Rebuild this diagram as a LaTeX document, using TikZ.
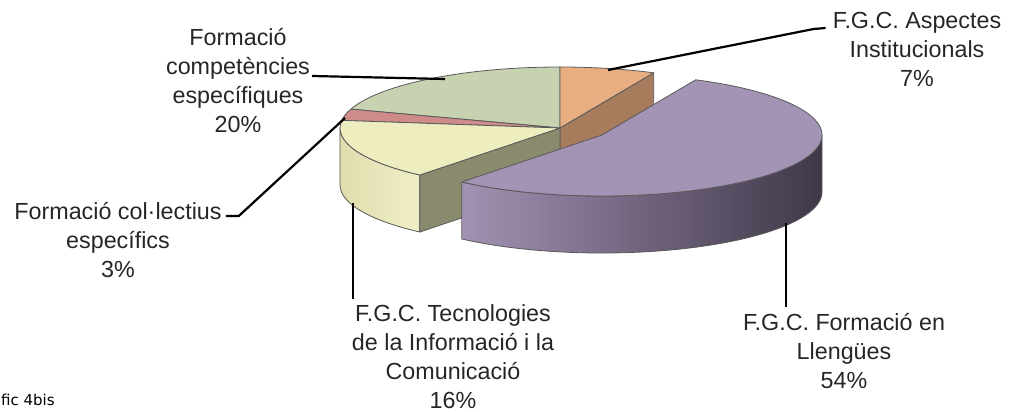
\documentclass[tikz,border=0pt]{standalone}
\usepackage{fontspec}
\setmainfont{Liberation Sans}
\newfontfamily\figfont{DejaVu Sans}
\usetikzlibrary{calc,positioning}
\definecolor{pieGreen}{HTML}{C7D3B0}
\definecolor{pieRed}{HTML}{CF8A8A}
\definecolor{pieOrange}{HTML}{E8AE82}
\definecolor{pieOrangeCut}{HTML}{A67C5C}
\definecolor{pieYellow}{HTML}{EEEDC0}
\definecolor{pieYellowL}{HTML}{E0DDAE}
\definecolor{pieYellowR}{HTML}{EFEEC6}
\definecolor{pieOlive}{HTML}{8A8A6E}
\definecolor{piePurple}{HTML}{A393B4}
\definecolor{piePurpleL}{HTML}{A292B3}
\definecolor{piePurpleM}{HTML}{74667E}
\definecolor{piePurpleD}{HTML}{3F3748}
\tikzstyle{rim}=[draw=black!65,line width=0.8pt,line join=round]
\tikzstyle{lbl}=[align=center,inner sep=0pt,text=black!85,font=\fontsize{23.3}{29}\selectfont]
\tikzstyle{lead}=[draw=black,line width=2.2pt]
\begin{document}
\begin{tikzpicture}[x=1pt,y=-1pt]
  \useasboundingbox (0,0) rectangle (1009,412);
  % slices that stay in place
  \begin{scope}[shift={(560,128)},yscale=-1,x radius=220,y radius=61]
    \coordinate (c) at (0,0);
    \coordinate (cb) at (0,-57);
    \path[rim,fill=pieGreen] (c) -- (162:220 and 61) arc[start angle=162,end angle=90] -- cycle;
    \path[rim,fill=pieRed] (c) -- (172.8:220 and 61) arc[start angle=172.8,end angle=162] -- cycle;
    \path[rim,fill=pieOrangeCut] (c) -- (64.8:220 and 61) -- ++(0,-57) -- (cb) -- cycle;
    \path[rim,fill=pieOrange] (c) -- (90:220 and 61) arc[start angle=90,end angle=64.8] -- cycle;
    \path[rim,left color=pieYellowL,right color=pieYellowR] (180:220 and 61)
      arc[start angle=180,end angle=230.4] -- ++(0,-57) arc[start angle=230.4,end angle=180] -- cycle;
    \path[rim,fill=pieOlive] (c) -- (230.4:220 and 61) -- ++(0,-57) -- (cb) -- cycle;
    \path[rim,fill=pieYellow] (c) -- (172.8:220 and 61) arc[start angle=172.8,end angle=230.4] -- cycle;
  \end{scope}
  % exploded slice
  \begin{scope}[shift={(602,135)},yscale=-1,x radius=220,y radius=61]
    \coordinate (d) at (0,0);
    \path[rim,left color=piePurpleL,middle color=piePurpleM,right color=piePurpleD] (230.4:220 and 61)
      arc[start angle=230.4,end angle=360] -- ++(0,-57) arc[start angle=360,end angle=230.4] -- cycle;
    \path[rim,fill=piePurple] (d) -- (64.8:220 and 61) arc[start angle=64.8,end angle=-129.6] -- cycle;
  \end{scope}
  % labels
  \node[lbl] (lComp) at (238,81) {Formació\\competències\\específiques\\20\%};
  \node[lbl] (lAsp) at (917,49) {F.G.C. Aspectes\\Institucionals\\7\%};
  \node[lbl] (lCol) at (118,240) {Formació col·lectius\\específics\\3\%};
  \node[lbl] (lTec) at (453,357) {F.G.C. Tecnologies\\de la Informació i la\\Comunicació\\16\%};
  \node[lbl] (lLle) at (844,351) {F.G.C. Formació en\\Llengües\\54\%};
  \node[anchor=base west,inner sep=0pt,font=\figfont\fontsize{15}{18}\selectfont] (cap) at (1,405) {fic 4bis};
  % leaders
  \coordinate (pComp) at (445,79);
  \coordinate (pAsp) at (608,70);
  \coordinate (pCol) at (345,118);
  \coordinate (pTec) at (353,203);
  \coordinate (pLle) at (786,223);
  \draw[lead] (lComp.east) ++(2,-5) -- (pComp);
  \draw[lead] (lAsp.west) ++(-7,-21) -- ++(-12,1) -- (pAsp);
  \draw[lead] (lCol.east) ++(4,-24) -- ++(13,0) -- (pCol);
  \draw[lead] (pTec) -- ($(lTec.north -| pTec)+(0,-6)$);
  \draw[lead] (pLle) -- ($(lLle.north -| pLle)+(0,-6)$);
\end{tikzpicture}
\end{document}
